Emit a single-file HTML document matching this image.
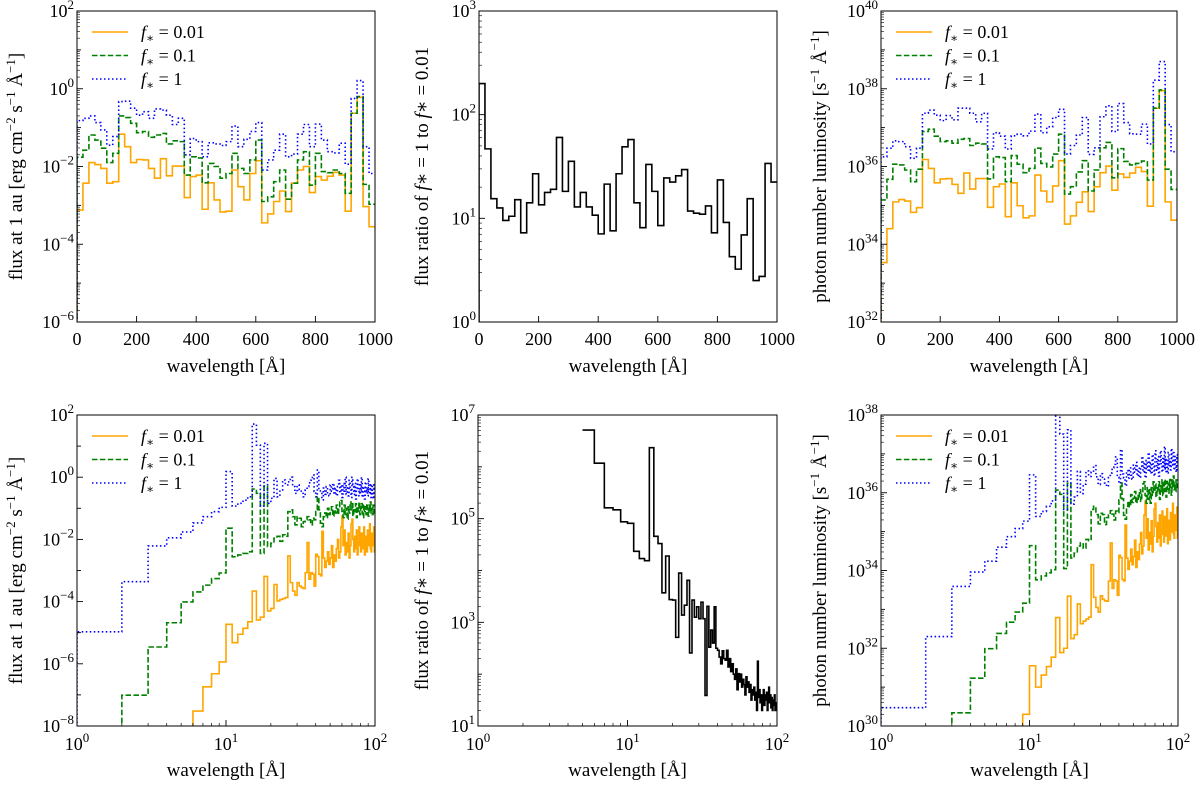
<!DOCTYPE html>
<html><head><meta charset="utf-8"><style>
html,body{margin:0;padding:0;background:#fff;}
svg{display:block;font-family:"Liberation Serif","DejaVu Serif",serif;}
</style></head><body>
<svg id="fig" width="1200" height="785" viewBox="0 0 1200 785" xmlns="http://www.w3.org/2000/svg"></svg>
<script>
// ---------- Data ----------
const topEdges = Array.from({length:51},(_,i)=>i*20);
const botEdges = Array.from({length:100},(_,i)=>i+1);
// top row: log10 values per 20 Å bin
const p1Orange=[-3.12,-2.43,-1.9,-1.95,-2.05,-2.43,-2.39,-1.17,-1.49,-1.9,-1.82,-1.83,-2.05,-2.3,-1.8,-2.24,-1.99,-1.99,-2.8,-2.26,-2.22,-3.1,-2.42,-2.86,-3.17,-3.15,-2.09,-2.52,-2.86,-2.18,-1.85,-3.45,-3.22,-2.9,-2.63,-3.16,-2.43,-2.09,-2.0,-2.67,-2.26,-2.35,-2.25,-2.15,-2.22,-3.15,-0.63,-0.22,-3.03,-3.55];
const p1Green=[-1.76,-1.58,-1.19,-1.32,-1.53,-1.9,-1.66,-0.7,-0.74,-0.89,-1.13,-1.1,-1.25,-1.19,-1.15,-1.42,-1.34,-1.36,-2.22,-1.75,-1.78,-2.42,-1.92,-2.0,-2.3,-2.18,-1.66,-2.05,-2.18,-1.83,-1.32,-2.9,-2.78,-2.39,-2.09,-2.84,-2.43,-1.83,-1.62,-2.48,-1.66,-2.13,-2.16,-2.09,-2.18,-2.69,-0.63,-0.2,-2.46,-2.97];
const p1Blue=[-0.82,-0.76,-0.7,-0.87,-1.06,-1.45,-1.23,-0.33,-0.32,-0.5,-0.68,-0.59,-0.76,-0.52,-0.55,-0.68,-0.92,-0.76,-1.7,-1.28,-1.36,-1.75,-1.39,-1.42,-1.46,-1.36,-0.96,-1.49,-1.3,-1.1,-0.87,-2.09,-1.83,-1.58,-1.17,-1.75,-1.68,-1.17,-0.92,-1.49,-0.91,-1.32,-1.62,-1.65,-1.4,-1.94,-0.25,0.21,-1.49,-2.18];
const p2Ratio=[2.3,1.67,1.19,1.1,0.98,1.02,1.18,0.86,1.15,1.43,1.13,1.25,1.28,1.78,1.26,1.55,1.11,1.25,1.11,1.03,0.85,1.33,0.88,1.43,1.69,1.76,1.15,0.91,1.52,1.26,0.93,1.39,1.35,1.41,1.47,1.07,1.05,1.04,1.12,0.86,1.37,0.96,0.63,0.51,0.84,1.19,0.4,0.44,1.53,1.35];
const p3Orange=[33.53,34.4,35.09,35.15,35.11,34.82,34.94,36.18,35.95,35.58,35.68,35.69,35.54,35.31,35.83,35.42,35.69,35.69,34.95,35.48,35.55,34.71,35.58,34.99,34.68,34.73,35.78,35.37,35.09,35.5,36.15,34.52,34.73,35.08,35.35,34.84,35.48,35.84,36.01,35.39,35.81,35.72,35.83,35.98,35.87,34.98,37.5,37.95,35.09,34.62];
const p3Green=[35.14,35.67,36.06,36.04,35.91,35.61,35.93,36.9,36.96,36.78,36.64,36.66,36.6,36.7,36.72,36.54,36.6,36.58,35.68,36.25,36.23,35.61,36.28,36.06,35.84,35.95,36.47,36.08,35.99,36.32,36.83,35.29,35.48,35.86,36.15,35.37,35.91,36.48,36.62,35.71,36.46,36.13,36.04,36.08,36.14,35.65,37.5,37.97,35.93,35.41];
const p3Blue=[36.25,36.47,36.66,36.64,36.51,36.21,36.47,37.37,37.45,37.32,37.18,37.31,37.2,37.5,37.5,37.37,37.15,37.37,36.45,36.87,36.78,36.45,36.79,36.83,36.79,36.91,37.35,36.87,37.02,37.26,37.47,36.32,36.54,36.81,37.26,36.31,36.48,37.28,37.56,36.9,37.62,37.13,36.84,36.83,37.09,36.58,38.22,38.7,37.08,36.38];
// bottom row: log10 values per 1 Å bin, 1..100 Å
const p4Orange=[null,null,null,null,null,-7.52,-6.74,-6.32,-5.94,-4.73,-5.32,-5.05,-4.86,-4.65,-3.66,-4.59,-4.5,-3.19,-4.3,-4.22,-3.45,-3.98,-3.93,-3.9,-3.87,-2.53,-3.39,-3.66,-3.8,-3.39,-3.5,-3.55,-3.58,-3.07,-2.1,-3.28,-3.07,-3.12,-3.5,-2.48,-2.55,-3.12,-3.17,-1.74,-2.6,-2.9,-2.7,-2.4,-2.8,-2.6,-2.2,-2.9,-2.5,-2.7,-2.3,-2.0,-2.6,-2.4,-1.6,-1.25,-2.2,-1.7,-2.5,-2.1,-2.4,-1.8,-2.6,-2.2,-1.5,-1.35,-2.0,-2.4,-1.9,-2.3,-1.7,-2.5,-2.1,-1.6,-2.2,-2.4,-1.8,-2.3,-2.0,-1.6,-2.5,-2.1,-1.9,-2.4,-1.7,-2.2,-2.0,-1.5,-2.3,-2.4,-1.8,-2.2,-2.0,-1.6,-2.4];
const p4Green=[null,-7.01,-5.46,-4.68,-4.01,-3.69,-3.47,-3.26,-3.08,-1.64,-2.56,-2.5,-2.45,-2.4,-0.38,-0.52,-2.45,-0.28,-2.23,-2.12,-1.96,-1.9,-2.06,-1.85,-1.9,-1.11,-1.05,-1.27,-1.53,-1.27,-1.32,-1.59,-1.43,-1.37,-1.27,-1.37,-1.53,-1.32,-1.37,-1.05,-0.63,-1.05,-1.48,-1.59,-1.27,-1.15,-1.3,-1.0,-1.2,-1.1,-0.95,-1.25,-1.05,-1.15,-0.9,-1.2,-1.0,-0.8,-0.75,-1.1,-1.3,-0.9,-1.2,-1.0,-1.35,-0.95,-1.15,-0.8,-1.05,-0.85,-1.25,-1.0,-1.1,-0.85,-1.3,-0.95,-1.1,-0.8,-1.2,-1.0,-0.85,-1.15,-1.3,-0.9,-1.1,-0.95,-1.2,-0.85,-1.05,-1.25,-0.9,-1.1,-0.8,-1.15,-1.0,-1.2,-0.9,-1.05,-1.15];
const p4Blue=[-4.97,-3.36,-2.21,-1.95,-1.76,-1.47,-1.27,-1.11,-0.97,0.18,-0.93,-0.84,-0.74,-0.63,1.71,1.03,-0.93,1.09,-0.84,-0.68,-0.04,-0.63,-0.41,-0.09,-0.25,-0.15,0.0,-0.3,-0.52,-0.25,-0.41,-0.52,-0.63,-0.41,-0.3,-0.18,-0.1,0.07,-0.46,-0.63,0.23,-0.41,-0.52,-0.73,-0.35,-0.55,-0.3,-0.5,-0.6,-0.25,-0.45,-0.2,-0.55,-0.35,-0.6,-0.3,-0.1,-0.5,-0.25,-0.65,-0.2,-0.45,0.0,-0.55,-0.3,-0.6,-0.1,-0.4,-0.65,0.0,-0.3,-0.55,-0.2,-0.7,-0.35,-0.05,-0.45,-0.6,-0.25,-0.5,0.0,-0.65,-0.3,-0.45,-0.7,-0.15,-0.5,-0.35,-0.6,-0.05,-0.4,-0.55,-0.2,-0.65,-0.3,-0.5,-0.7,-0.25,-0.45];
const p5Ratio=[null,null,null,null,6.71,6.07,5.21,5.17,4.94,4.91,4.37,4.23,4.19,6.37,4.66,4.52,3.57,4.28,3.44,3.43,2.71,3.95,3.14,3.33,3.81,2.41,3.43,3.1,3.3,3.07,3.39,3.07,1.59,3.31,2.52,2.85,2.6,3.3,2.5,2.46,2.33,2.2,2.45,2.3,2.27,2.46,2.14,2.3,2.05,2.2,2.0,1.9,2.1,1.7,2.01,1.85,2.0,1.75,1.9,1.8,1.6,1.95,1.75,1.85,1.65,1.8,1.5,1.7,1.6,1.75,1.5,1.65,1.3,2.25,1.55,1.7,1.45,1.6,1.3,1.55,1.7,1.4,1.6,1.5,1.65,1.3,1.55,1.75,1.45,1.6,1.35,1.55,1.3,1.5,1.4,1.6,1.3,1.45,1.35];
const p6Orange=[null,null,null,null,null,null,null,null,30.3,31.55,31.0,31.31,31.53,31.77,32.79,31.89,32.0,33.34,32.25,32.35,33.14,32.63,32.7,32.75,32.8,34.15,33.31,33.05,32.93,33.35,33.26,33.22,33.21,33.73,34.71,33.54,33.76,33.73,33.36,34.39,34.33,33.77,33.73,35.17,34.32,34.03,34.24,34.55,34.15,34.36,34.78,34.08,34.48,34.28,34.68,34.98,34.43,34.63,35.43,35.78,34.83,35.33,34.53,34.98,34.68,35.28,34.48,34.88,35.58,35.73,35.13,34.73,35.23,34.83,35.43,34.63,35.03,35.53,34.93,34.73,35.39,34.89,35.19,35.59,34.69,35.09,35.29,34.79,35.49,34.99,35.23,35.73,34.93,34.83,35.43,35.03,35.23,35.63,34.83];
const p6Green=[null,null,30.34,31.23,31.99,32.38,32.67,32.93,33.16,34.64,33.76,33.86,33.94,34.02,36.07,35.96,34.05,36.25,34.32,34.45,34.63,34.71,34.57,34.8,34.77,35.57,35.65,35.44,35.2,35.47,35.44,35.18,35.36,35.43,35.54,35.45,35.3,35.53,35.49,35.82,36.25,35.84,35.42,35.32,35.65,35.78,35.64,35.95,35.75,35.86,36.03,35.73,35.93,35.83,36.08,35.78,36.03,36.23,36.28,35.93,35.73,36.13,35.83,36.08,35.73,36.13,35.93,36.28,36.03,36.23,35.88,36.13,36.03,36.28,35.83,36.18,36.03,36.33,35.93,36.13,36.34,36.04,35.89,36.29,36.09,36.24,35.99,36.34,36.14,35.94,36.33,36.13,36.43,36.08,36.23,36.03,36.33,36.18,36.08];
const p6Blue=[30.47,32.3,33.59,33.96,34.24,34.6,34.87,35.08,35.27,36.46,35.39,35.52,35.65,35.79,38.16,37.51,35.57,37.62,35.71,35.89,36.55,35.98,36.22,36.56,36.42,36.53,36.7,36.41,36.21,36.49,36.35,36.25,36.16,36.39,36.51,36.64,36.73,36.92,36.4,36.24,37.11,36.48,36.38,36.18,36.57,36.38,36.64,36.45,36.35,36.71,36.53,36.78,36.43,36.63,36.38,36.68,36.93,36.53,36.78,36.38,36.83,36.58,37.03,36.53,36.78,36.48,36.98,36.68,36.43,37.08,36.83,36.58,36.93,36.43,36.78,37.08,36.68,36.53,36.88,36.63,37.19,36.54,36.89,36.74,36.49,37.04,36.69,36.84,36.59,37.14,36.83,36.68,37.03,36.58,36.93,36.73,36.53,36.98,36.78];
const legendLabels=['0.01','0.1','1'];

// ---------- Drawing ----------
const NS='http://www.w3.org/2000/svg';
const svg=document.getElementById('fig');
function mk(tag,attrs,parent){const e=document.createElementNS(NS,tag);for(const k in attrs)e.setAttribute(k,attrs[k]);(parent||svg).appendChild(e);return e;}
const STY={orange:{stroke:'#ffa500',dash:'none'},green:{stroke:'#008000',dash:'5.5,2.4'},blue:{stroke:'#0000ff',dash:'1.5,2.5'},black:{stroke:'#000',dash:'none'}};
let clipId=0;

function pow10Label(g,x,y,exp,anchor){
  const t=mk('text',{x:x,y:y,'font-size':18,'text-anchor':anchor,fill:'#000'},g);
  t.appendChild(document.createTextNode('10'));
  const s=mk('tspan',{dy:-8,'font-size':13},t);
  s.textContent=String(exp).replace('-','\u2212');
  return t;
}

function panel(p){
  const g=mk('g',{});
  
  
  const L=p.x0,R=p.x1,T=p.y0,B=p.y1;
  const sx=p.xlog?(v=>L+(Math.log10(v)-p.xmin)/(p.xmax-p.xmin)*(R-L)):(v=>L+(v-p.xmin)/(p.xmax-p.xmin)*(R-L));
  const sy=v=>B-(v-p.ymin)/(p.ymax-p.ymin)*(B-T);
  const cid='c'+(clipId++);
  const cp=mk('clipPath',{id:cid},g);mk('rect',{x:L,y:T,width:R-L,height:B-T},cp);
  const sg=mk('g',{'clip-path':'url(#'+cid+')'},g);
  p.series.forEach(s=>{
    let d='';let prevNull=true;
    for(let i=0;i<s.vals.length;i++){
      const v=s.vals[i];
      if(v===null||v===undefined){prevNull=true;continue;}
      const xa=sx(p.edges[i]),xb=sx(p.edges[i+1]),y=sy(v);
      if(prevNull){
        if(p.noRise) d+='M'+xa.toFixed(2)+','+y.toFixed(2);
        else d+='M'+xa.toFixed(2)+','+(B+5)+'L'+xa.toFixed(2)+','+y.toFixed(2);
      }
      else d+='L'+xa.toFixed(2)+','+y.toFixed(2);
      d+='L'+xb.toFixed(2)+','+y.toFixed(2);
      prevNull=false;
    }
    const st=STY[s.color];
    const path=mk('path',{d:d,fill:'none',stroke:st.stroke,'stroke-width':1.6,'stroke-dasharray':st.dash,'stroke-linejoin':'miter'},sg);
    
    
  });
  const fr=mk('rect',{x:L,y:T,width:R-L,height:B-T,fill:'none',stroke:'#000','stroke-width':1},g);
  
  
  const xt=mk('g',{},g);
  
  
  if(p.xlog){
    for(let e=p.xmin;e<=p.xmax;e++){
      const x=sx(Math.pow(10,e));
      mk('line',{x1:x,x2:x,y1:B,y2:B-6,stroke:'#000','stroke-width':0.9},xt);
      pow10Label(xt,x,B+24,e,'middle');
      if(e<p.xmax)for(let m=2;m<=9;m++){const xm=sx(m*Math.pow(10,e));mk('line',{x1:xm,x2:xm,y1:B,y2:B-3,stroke:'#000','stroke-width':0.7},xt);}
    }
  } else {
    for(let v=0;v<=1000;v+=200){
      const x=sx(v);
      mk('line',{x1:x,x2:x,y1:B,y2:B-6,stroke:'#000','stroke-width':0.9},xt);
      const t=mk('text',{x:x,y:B+23,'font-size':18,'text-anchor':'middle'},xt);t.textContent=String(v);
    }
  }
  const yt=mk('g',{},g);
  
  
  const span=p.ymax-p.ymin;
  for(let e=p.ymin;e<=p.ymax;e++){
    const y=sy(e);
    const labeled=((e-p.ymin)%p.ystep===0);
    mk('line',{x1:L,x2:L+(labeled?6:4),y1:y,y2:y,stroke:'#000','stroke-width':0.9},yt);
    if(labeled)pow10Label(yt,L-3,y+6,e,'end');
    if(span<=8&&e<p.ymax)for(let m=2;m<=9;m++){const ym=sy(e+Math.log10(m));mk('line',{x1:L,x2:L+3,y1:ym,y2:ym,stroke:'#000','stroke-width':0.6},yt);}
  }
  const xl=mk('text',{x:(L+R)/2,y:B+50,'font-size':19,'text-anchor':'middle'},g);
  xl.textContent='wavelength [\u00C5]';
  
  
  const yl=mk('text',{x:0,y:0,'font-size':19,'text-anchor':'middle',transform:'translate('+p.ylx+','+((T+B)/2)+') rotate(-90)'},g);
  
  
  p.ylabel.forEach(part=>{
    const ts=mk('tspan',part.sup?{dy:-7,'font-size':13}:(part.after?{dy:7}:{}),yl);
    if(part.it)ts.setAttribute('font-style','italic');
    ts.textContent=part.t;
  });
  if(p.legend){
    const lg=mk('g',{},g);
    
    
    p.series.forEach((s,i)=>{
      const y=T+21+i*23.5;const st=STY[s.color];
      const ent=mk('g',{},lg);
      
      
      mk('line',{x1:L+15,x2:L+51,y1:y,y2:y,stroke:st.stroke,'stroke-width':1.6,'stroke-dasharray':st.dash},ent);
      const t=mk('text',{x:L+64,y:y+6,'font-size':18},ent);
      const f=mk('tspan',{'font-style':'italic'},t);f.textContent='f';
      const sb=mk('tspan',{dy:4,'font-size':12},t);sb.textContent='\u2217';
      const rest=mk('tspan',{dy:-4},t);rest.textContent=' = '+legendLabels[i];
    });
  }
}

const fluxLabel=[{t:'flux at 1 au [erg cm'},{t:'\u22122',sup:true},{t:' s',after:true},{t:'\u22121',sup:true},{t:' \u00C5',after:true},{t:'\u22121',sup:true},{t:']',after:true}];
const ratioLabel=[{t:'flux ratio of '},{t:'f',it:true},{t:'\u2217 = 1 to '},{t:'f',it:true},{t:'\u2217 = 0.01'}];
const photLabel=[{t:'photon number luminosity [s'},{t:'\u22121',sup:true},{t:' \u00C5',after:true},{t:'\u22121',sup:true},{t:']',after:true}];

panel({name:'flux-linear-panel',x0:77,x1:375,y0:11,y1:322,xlog:false,xmin:0,xmax:1000,ymin:-6,ymax:2,ystep:2,edges:topEdges,ylx:22,ylabel:fluxLabel,legend:true,
  series:[{name:'series-fstar-0.01',color:'orange',vals:p1Orange},{name:'series-fstar-0.1',color:'green',vals:p1Green},{name:'series-fstar-1',color:'blue',vals:p1Blue}]});
panel({name:'ratio-linear-panel',x0:479,x1:777,y0:11,y1:322,xlog:false,xmin:0,xmax:1000,ymin:0,ymax:3,ystep:1,edges:topEdges,ylx:428,ylabel:ratioLabel,legend:false,
  series:[{name:'series-ratio',color:'black',vals:p2Ratio}]});
panel({name:'photon-linear-panel',x0:881,x1:1177,y0:11,y1:322,xlog:false,xmin:0,xmax:1000,ymin:32,ymax:40,ystep:2,edges:topEdges,ylx:826,ylabel:photLabel,legend:true,
  series:[{name:'series-fstar-0.01',color:'orange',vals:p3Orange},{name:'series-fstar-0.1',color:'green',vals:p3Green},{name:'series-fstar-1',color:'blue',vals:p3Blue}]});
panel({name:'flux-log-panel',x0:77,x1:375,y0:415,y1:726,xlog:true,xmin:0,xmax:2,ymin:-8,ymax:2,ystep:2,edges:botEdges,ylx:22,ylabel:fluxLabel,legend:true,
  series:[{name:'series-fstar-0.01',color:'orange',vals:p4Orange},{name:'series-fstar-0.1',color:'green',vals:p4Green},{name:'series-fstar-1',color:'blue',vals:p4Blue}]});
panel({name:'ratio-log-panel',x0:478,x1:777,y0:415,y1:726,xlog:true,xmin:0,xmax:2,ymin:1,ymax:7,ystep:2,edges:botEdges,ylx:428,ylabel:ratioLabel,legend:false,noRise:true,
  series:[{name:'series-ratio',color:'black',vals:p5Ratio}]});
panel({name:'photon-log-panel',x0:881,x1:1178,y0:415,y1:726,xlog:true,xmin:0,xmax:2,ymin:30,ymax:38,ystep:2,edges:botEdges,ylx:826,ylabel:photLabel,legend:true,
  series:[{name:'series-fstar-0.01',color:'orange',vals:p6Orange},{name:'series-fstar-0.1',color:'green',vals:p6Green},{name:'series-fstar-1',color:'blue',vals:p6Blue}]});
</script>
</body></html>
